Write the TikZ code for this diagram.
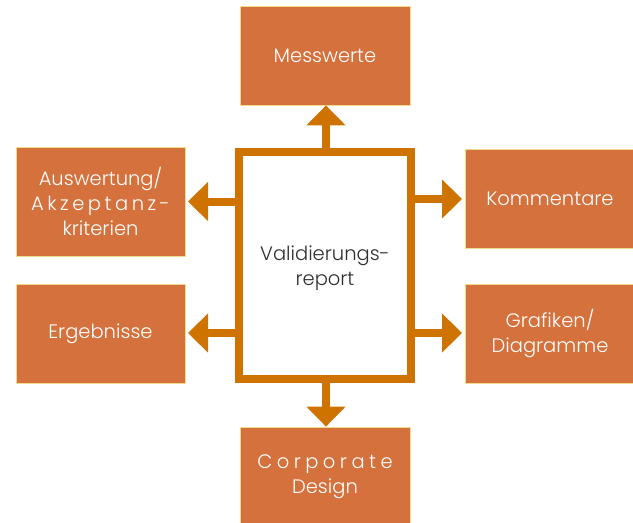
\documentclass[tikz,border=0pt]{standalone}
\usepackage{fontspec}
\setmainfont{Poppins}[UprightFont=* Light]
\usetikzlibrary{arrows.meta}
\definecolor{boxfill}{HTML}{D4713C}
\definecolor{boxline}{HTML}{F3D98C}
\definecolor{arr}{HTML}{CF7300}
\definecolor{dark}{HTML}{303030}
\tikzset{
  txt/.style={align=center, font=\fontsize{19.5}{25}\selectfont},
  topicbox/.style={txt, draw=boxline, line width=0.8pt, fill=boxfill, text=white, inner sep=0pt},
  conn/.style={draw=arr, line width=8pt, -{Triangle[width=38pt,length=20pt]}}
}
\begin{document}
\begin{tikzpicture}[x=1pt,y=-1pt]
\useasboundingbox (0,0) rectangle (633,523);
\node[topicbox, minimum width=170pt, minimum height=99pt] (mess) at (325,55.5) {Messwerte};
\node[topicbox, minimum width=169pt, minimum height=109pt] (ausw) at (100.5,201.5) {Auswertung/\\{\addfontfeatures{LetterSpace=18}Akzeptanz-}\\kriterien};
\node[topicbox, minimum width=169pt, minimum height=99pt] (erg) at (100.5,333.5) {Ergebnisse};
\node[topicbox, minimum width=170pt, minimum height=99pt] (komm) at (550,198.5) {Kommentare};
\node[topicbox, minimum width=170pt, minimum height=99pt] (graf) at (550,333.5) {Grafiken/\\Diagramme};
\node[topicbox, minimum width=170pt, minimum height=99pt] (corp) at (325,476.5) {{\addfontfeatures{LetterSpace=23}Corporate}\\Design};
\node[draw=arr, line width=8pt, fill=white, minimum width=172pt, minimum height=227pt, inner sep=0pt] (val) at (325,265.5) {};
\node[txt, text=dark] (valt) at (325,268) {Validierungs-\\report};
\coordinate (vt) at (326,148);
\coordinate (vb) at (326,383);
\coordinate (vl1) at (239,201.5);
\coordinate (vl2) at (239,333);
\coordinate (vr1) at (411,199);
\coordinate (vr2) at (411,333);
\draw[conn] (vt) -- (mess.south -| vt);
\draw[conn] (vb) -- (corp.north -| vb);
\draw[conn] (vl1) -- (188,201.5) coordinate (al1);
\draw[conn] (vl2) -- (188,333) coordinate (al2);
\draw[conn] (vr1) -- (462,199) coordinate (ar1);
\draw[conn] (vr2) -- (462,333) coordinate (ar2);
\end{tikzpicture}
\end{document}
